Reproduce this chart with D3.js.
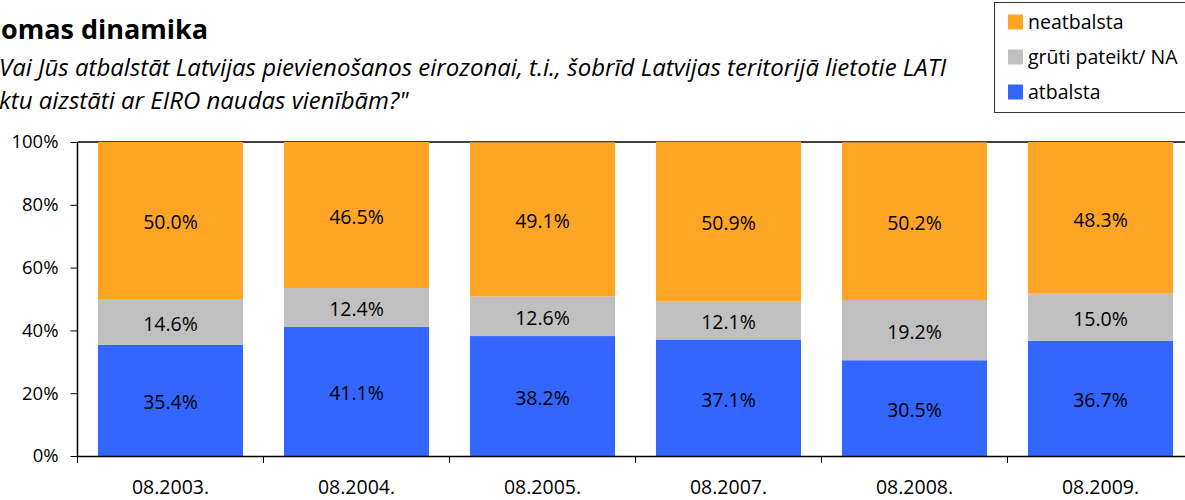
<!DOCTYPE html>
<html>
<head>
<meta charset="utf-8">
<script src="https://cdnjs.cloudflare.com/ajax/libs/d3/7.8.5/d3.min.js"></script>
<style>
  body { margin: 0; background: #fff; }
  svg { display: block; font-family: "Open Sans", Lato, sans-serif; }
</style>
</head>
<body>
<div class="chart"></div>
<script>
var periods = ["08.2003.", "08.2004.", "08.2005.", "08.2007.", "08.2008.", "08.2009."];
var atbalsta = [35.4, 41.1, 38.2, 37.1, 30.5, 36.7];
var gruti = [14.6, 12.4, 12.6, 12.1, 19.2, 15.0];
var neatbalsta = [50.0, 46.5, 49.1, 50.9, 50.2, 48.3];
var seriesNames = ["atbalsta", "grūti pateikt/ NA", "neatbalsta"];
var seriesColors = ["#3366FF", "#C0C0C0", "#FFA526"];
var yTicks = [0, 20, 40, 60, 80, 100];

var width = 1185, height = 500;
var margin = { top: 142, right: -8.5, bottom: 44, left: 77.5 };

var rows = periods.map(function (p, i) {
  return { period: p, a: atbalsta[i], g: gruti[i], n: neatbalsta[i] };
});
var keys = ["a", "g", "n"];
var stacked = d3.stack().keys(keys)(rows);

var svg = d3.select(".chart").append("svg")
    .attr("width", width)
    .attr("height", height);

var x = d3.scaleBand()
    .domain(periods)
    .range([margin.left, width - margin.right])
    .paddingInner(0.22)
    .paddingOuter(0.11);

var y = d3.scaleLinear()
    .domain([0, 100])
    .range([height - margin.bottom, margin.top]);

// title (first line is cut off above the picture)
svg.append("text")
    .attr("x", 1).attr("y", 39)
    .attr("font-size", "27px")
    .attr("font-weight", "bold")
    .attr("fill", "#000")
    .text("omas dinamika");

svg.append("text")
    .attr("x", -1).attr("y", 76)
    .attr("font-size", "24px")
    .attr("font-style", "italic")
    .attr("fill", "#000")
    .text("Vai Jūs atbalstāt Latvijas pievienošanos eirozonai, t.i., šobrīd Latvijas teritorijā lietotie LATI");

svg.append("text")
    .attr("x", -1).attr("y", 109)
    .attr("font-size", "24px")
    .attr("font-style", "italic")
    .attr("fill", "#000")
    .text("ktu aizstāti ar EIRO naudas vienībām?\"");

// top line of plot area
svg.append("line")
    .attr("x1", margin.left).attr("x2", width)
    .attr("y1", y(100)).attr("y2", y(100))
    .attr("stroke", "#000").attr("stroke-width", 1.5);

// bars
var layers = svg.selectAll(".layer")
    .data(stacked)
    .enter().append("g")
    .attr("fill", function (d, i) { return seriesColors[i]; });

layers.selectAll("rect")
    .data(function (d) { return d; })
    .enter().append("rect")
    .attr("x", function (d) { return x(d.data.period); })
    .attr("y", function (d) { return y(d[1]); })
    .attr("width", x.bandwidth())
    .attr("height", function (d) { return y(d[0]) - y(d[1]); });

layers.selectAll("text")
    .data(function (d) { return d; })
    .enter().append("text")
    .attr("x", function (d) { return x(d.data.period) + x.bandwidth() / 2; })
    .attr("y", function (d) { return (y(d[0]) + y(d[1])) / 2; })
    .attr("dy", "0.45em")
    .attr("text-anchor", "middle")
    .attr("font-size", "19.5px")
    .attr("fill", "#000")
    .text(function (d) { return (d[1] - d[0]).toFixed(1) + "%"; });

// axes
var yAxis = svg.append("g")
    .attr("transform", "translate(" + margin.left + ",0)")
    .call(d3.axisLeft(y).tickValues(yTicks).tickSize(7).tickPadding(12)
      .tickFormat(function (d) { return d + "%"; }));

var xAxis = svg.append("g")
    .attr("transform", "translate(0," + y(0) + ")")
    .call(d3.axisBottom(x).tickSize(0));

xAxis.selectAll(".tick text").attr("y", 38).attr("dy", 0);

xAxis.selectAll(".tick").each(function (d) {
  d3.select(this).append("line")
    .attr("x1", -x.step() / 2).attr("x2", -x.step() / 2)
    .attr("y1", 0).attr("y2", 7)
    .attr("stroke", "#000");
});

[yAxis, xAxis].forEach(function (ax) {
  ax.select(".domain").attr("stroke", "#000").attr("stroke-width", 1.5);
  ax.selectAll("text").attr("fill", "#000")
    .attr("font-family", "'Open Sans', Lato, sans-serif");
});
yAxis.selectAll("text").attr("font-size", "18.5px");
xAxis.selectAll("text").attr("font-size", "19.5px");
yAxis.select(".domain").attr("d", "M0," + y(0) + "V" + y(100));

// legend
var legend = svg.append("g");
legend.append("rect")
    .attr("x", 994.5).attr("y", 2.5)
    .attr("width", 200).attr("height", 110)
    .attr("fill", "#fff").attr("stroke", "#333");

var legendOrder = [2, 1, 0];
var items = legend.selectAll(".item")
    .data(legendOrder)
    .enter().append("g")
    .attr("transform", function (d, i) { return "translate(1008," + (22 + i * 35) + ")"; });

items.append("rect")
    .attr("x", 0).attr("y", -7.5)
    .attr("width", 15).attr("height", 15)
    .attr("fill", function (d) { return seriesColors[d]; });

items.append("text")
    .attr("x", 20).attr("dy", "0.35em")
    .attr("font-size", "19.5px")
    .attr("fill", "#000")
    .text(function (d) { return seriesNames[d]; });
</script>
</body>
</html>
